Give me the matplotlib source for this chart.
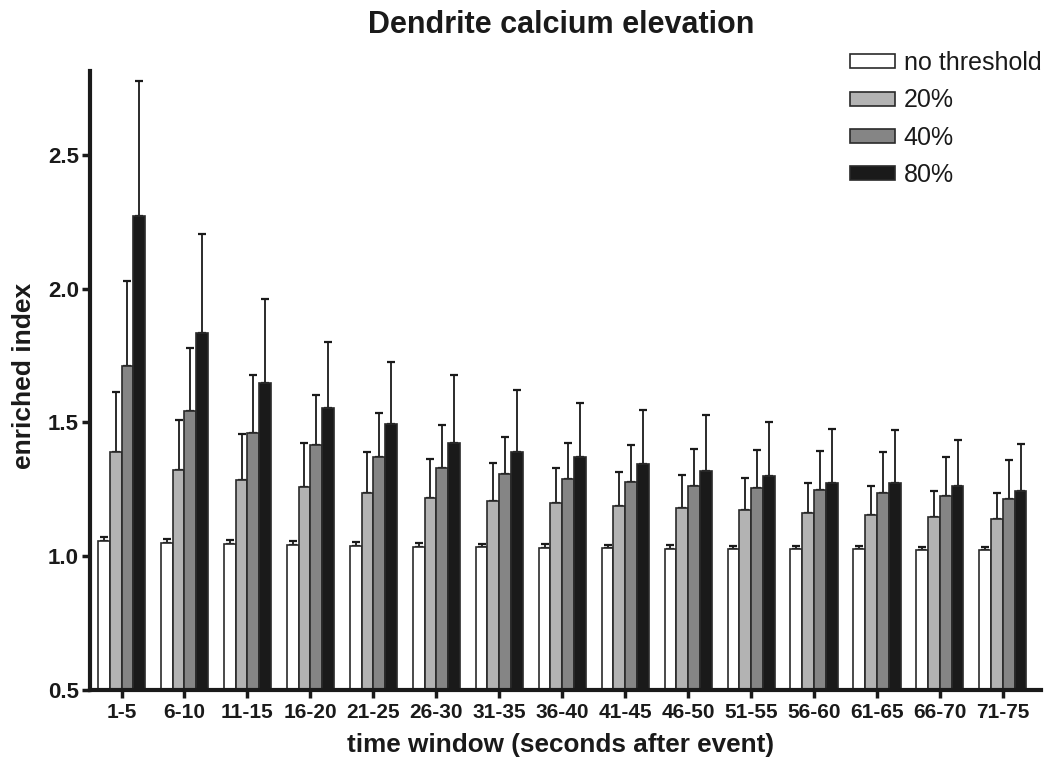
import numpy as np
import matplotlib.pyplot as plt

plt.rcParams['font.family'] = ['Liberation Sans', 'DejaVu Sans']

windows = ['1-5', '6-10', '11-15', '16-20', '21-25', '26-30', '31-35', '36-40',
           '41-45', '46-50', '51-55', '56-60', '61-65', '66-70', '71-75']
series = ['no threshold', '20%', '40%', '80%']

# mean values
no_thr = [1.057, 1.048, 1.044, 1.041, 1.038, 1.036, 1.034, 1.032, 1.031, 1.028, 1.027, 1.026, 1.026, 1.023, 1.022]
thr20 = [1.388, 1.322, 1.284, 1.257, 1.235, 1.217, 1.207, 1.198, 1.189, 1.181, 1.173, 1.163, 1.155, 1.146, 1.139]
thr40 = [1.711, 1.544, 1.461, 1.417, 1.370, 1.331, 1.306, 1.290, 1.276, 1.263, 1.254, 1.246, 1.237, 1.224, 1.213]
thr80 = [2.271, 1.835, 1.646, 1.553, 1.495, 1.422, 1.388, 1.372, 1.346, 1.317, 1.301, 1.275, 1.275, 1.261, 1.245]

# top of the error bar (mean + error)
no_thr_top = [1.073, 1.064, 1.059, 1.056, 1.053, 1.050, 1.047, 1.046, 1.043, 1.041, 1.039, 1.039, 1.037, 1.036, 1.034]
thr20_top = [1.612, 1.509, 1.458, 1.424, 1.391, 1.363, 1.348, 1.330, 1.316, 1.303, 1.291, 1.275, 1.261, 1.245, 1.235]
thr40_top = [2.030, 1.779, 1.677, 1.602, 1.535, 1.490, 1.447, 1.424, 1.417, 1.402, 1.398, 1.394, 1.388, 1.371, 1.358]
thr80_top = [2.776, 2.203, 1.960, 1.802, 1.726, 1.678, 1.620, 1.573, 1.545, 1.528, 1.502, 1.474, 1.470, 1.435, 1.418]

means = [no_thr, thr20, thr40, thr80]
tops = [no_thr_top, thr20_top, thr40_top, thr80_top]
colors = ['#ffffff', '#b3b3b3', '#858585', '#1a1a1a']

fig = plt.figure(figsize=(10.53, 7.72), dpi=100)
ax = fig.add_axes([0.0855, 0.1062, 0.9028, 0.8018])

x = np.arange(len(windows))
w = 0.187
for i in range(4):
    m = np.array(means[i])
    up = np.array(tops[i]) - m
    pos = x + (i - 1.5) * w
    ax.bar(pos, m - 0.5, w, bottom=0.5, color=colors[i], edgecolor='#2a2a2a',
           linewidth=1.2, label=series[i], zorder=2)
    ax.errorbar(pos, m, yerr=[np.zeros_like(up), up], fmt='none', ecolor='#1a1a1a',
                elinewidth=1.3, capsize=3.2, capthick=1.6, zorder=1)

ax.set_xlim(-0.5, 14.6)
ax.set_ylim(0.5, 2.813)
ax.set_yticks([0.5, 1.0, 1.5, 2.0, 2.5])
ax.set_yticklabels(['0.5', '1.0', '1.5', '2.0', '2.5'])
ax.set_xticks(x)
ax.set_xticklabels(windows)

for s in ['top', 'right']:
    ax.spines[s].set_visible(False)
for s in ['left', 'bottom']:
    ax.spines[s].set_linewidth(3)
    ax.spines[s].set_color('#1a1a1a')
ax.tick_params(axis='both', direction='out', length=6, width=2.5, color='#1a1a1a')
ax.tick_params(axis='y', labelsize=16, pad=2)
ax.tick_params(axis='x', labelsize=15, pad=3)
for lab in ax.get_xticklabels() + ax.get_yticklabels():
    lab.set_fontweight('bold')
    lab.set_color('#1a1a1a')

ax.set_xlabel('time window (seconds after event)', fontsize=18.8, fontweight='bold',
              color='#1a1a1a', va='center')
ax.xaxis.set_label_coords(0.495, -0.089)
ax.set_ylabel('enriched index', fontsize=19, fontweight='bold', color='#1a1a1a',
              va='center')
ax.yaxis.set_label_coords(-0.0694, 0.507)
fig.text(0.533, 0.9676, 'Dendrite calcium elevation', fontsize=22, fontweight='bold',
         color='#1a1a1a', ha='center', va='center')

leg = ax.legend(loc='upper left', bbox_to_anchor=(0.799, 1.032), frameon=False,
                fontsize=18, handlelength=1.8, handleheight=0.48,
                handletextpad=0.36, labelspacing=0.53, borderaxespad=0, borderpad=0)
for t in leg.get_texts():
    t.set_color('#1a1a1a')

fig.savefig('out.png', dpi=100)
